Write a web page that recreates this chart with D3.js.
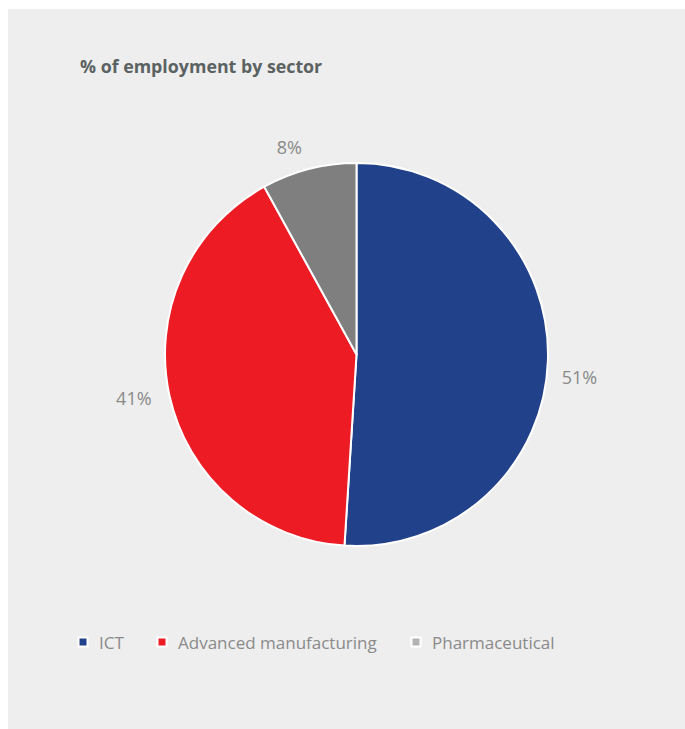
<!DOCTYPE html>
<html>
<head>
<meta charset="utf-8">
<script src="https://cdn.jsdelivr.net/npm/d3@7"></script>
<style>
  html, body { margin: 0; padding: 0; background: #ffffff; }
  svg { display: block; }
</style>
</head>
<body>
<svg id="chart" width="685" height="729"></svg>
<script>
// Share of employment by sector
const sectors = ["ICT", "Advanced manufacturing", "Pharmaceutical"];
const shares = [51, 41, 8];
const sliceColors = ["#21418a", "#ed1c24", "#7f7f7f"];
const legendColors = ["#21418a", "#ed1c24", "#b3b3b3"];
const titleText = "% of employment by sector";

const svg = d3.select("#chart");
const W = 685, H = 729;

// panel background
svg.append("rect")
  .attr("x", 8).attr("y", 9)
  .attr("width", W - 8).attr("height", H - 9)
  .attr("fill", "#eeeeee");

// title
svg.append("text")
  .attr("x", 80).attr("y", 73)
  .attr("font-family", "'Open Sans', sans-serif")
  .attr("font-weight", 700)
  .attr("font-size", 17.8)
  .attr("fill", "#5b6262")
  .text(titleText);

const cx = 356.5, cy = 354.5, R = 191.5;
const data = sectors.map((s, i) => ({ name: s, value: shares[i], i }));

const pie = d3.pie().value(d => d.value).sort(null);
const arcs = pie(data);
const arc = d3.arc().innerRadius(0).outerRadius(R);
const labelArc = d3.arc().innerRadius(222).outerRadius(222);

// small per-slice label nudges so the labels sit clear of the rim
const labelNudge = [[1, 16], [-6, -4], [-12, 8]];

const g = svg.append("g").attr("transform", `translate(${cx},${cy})`);

g.selectAll("path.slice")
  .data(arcs)
  .join("path")
  .attr("class", "slice")
  .attr("d", arc)
  .attr("fill", d => sliceColors[d.data.i])
  .attr("stroke", "#ffffff")
  .attr("stroke-width", 2)
  .attr("stroke-linejoin", "round");

g.selectAll("text.value")
  .data(arcs)
  .join("text")
  .attr("class", "value")
  .attr("transform", d => {
    const [x, y] = labelArc.centroid(d);
    const [nx, ny] = labelNudge[d.data.i];
    return `translate(${x + nx},${y + ny})`;
  })
  .attr("text-anchor", "middle")
  .attr("dy", "0.36em")
  .attr("font-family", "'Open Sans', sans-serif")
  .attr("font-size", 18)
  .attr("fill", "#8a8a8a")
  .text(d => d.data.value + "%");

// legend
const legendX = [83, 162, 416];
const legend = svg.append("g");
const items = legend.selectAll("g.item")
  .data(data)
  .join("g")
  .attr("class", "item")
  .attr("transform", d => `translate(${legendX[d.i]},642)`);

items.append("rect")
  .attr("x", -4.5).attr("y", -4.5)
  .attr("width", 9).attr("height", 9)
  .attr("fill", d => legendColors[d.i])
  .attr("stroke", "#ffffff")
  .attr("stroke-width", 2);

items.append("text")
  .attr("x", 16)
  .attr("y", 7)
  .attr("font-family", "'Open Sans', sans-serif")
  .attr("font-size", 17)
  .attr("fill", "#8a8a8a")
  .text(d => d.name);
</script>
</body>
</html>
